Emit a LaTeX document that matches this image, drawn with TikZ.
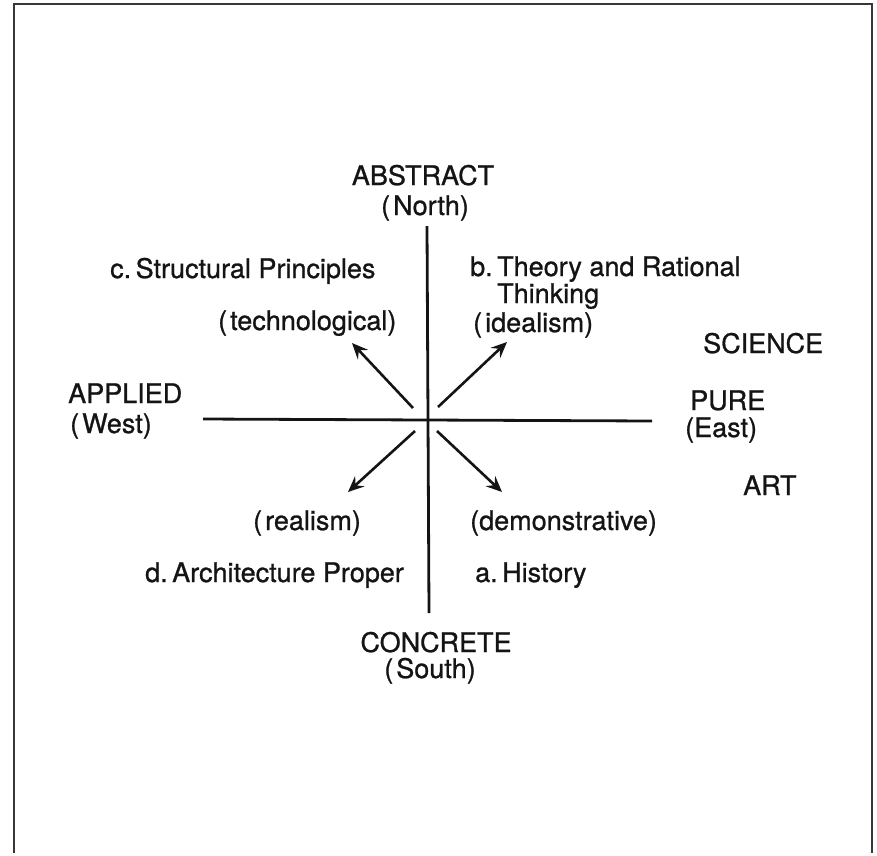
\documentclass[tikz,border=0pt]{standalone}
\usepackage{fontspec}
\setmainfont{TeX Gyre Heros}[RawFeature={embolden=0.9}]
\usepackage{tikz}
\usetikzlibrary{arrows.meta,positioning,calc}
\definecolor{inkblack}{RGB}{20,20,20}

\begin{document}
\begin{tikzpicture}[x=1pt, y=-1pt,
        lbl/.style={inner sep=0pt, text=inkblack, font=\fontsize{27}{29}\selectfont},
        axis/.style={line width=2.8pt, inkblack},
        dirarrow/.style={line width=2.6pt, inkblack, -{Stealth[length=16pt,width=14pt,inset=6pt]}}]
        \useasboundingbox (0,0) rectangle (877,855);
        \draw[line width=2pt, inkblack!85] (14,853) -- (14,4) -- (872,4) -- (872,853);
        % axes
        \coordinate (north) at (427,226);
        \coordinate (south) at (429,613);
        \coordinate (west) at (203,419);
        \coordinate (east) at (652,421);
        \draw[axis] (north) -- (south);
        \draw[axis] (west) -- (east);
        % arrows out of the centre
        \coordinate (nwtail) at (413,408);
        \coordinate (nwtip) at (352,343);
        \coordinate (netail) at (438,407);
        \coordinate (netip) at (507,342);
        \coordinate (swtail) at (415,431);
        \coordinate (swtip) at (348,492);
        \coordinate (setail) at (437,431);
        \coordinate (setip) at (502,492);
        \draw[dirarrow] (nwtail) -- (nwtip);
        \draw[dirarrow] (netail) -- (netip);
        \draw[dirarrow] (swtail) -- (swtip);
        \draw[dirarrow] (setail) -- (setip);
        % pole labels
        \node[lbl, anchor=base] (abstract) at (423,185) {ABSTRACT};
        \node[lbl, anchor=base] (northlbl) at (425,215) {(\kern3pt North)};
        \node[lbl, anchor=base] (concrete) at (436,652) {CONCRETE};
        \node[lbl, anchor=base] (southlbl) at (430,678) {(\kern3pt South)};
        \node[lbl, anchor=base west] (applied) at (68,403) {APPLIED};
        \node[lbl, anchor=base west] (westlbl) at (70,433) {(\kern3pt West)};
        \node[lbl, anchor=base west] (pure) at (690,410) {PURE};
        \node[lbl, anchor=base west] (eastlbl) at (685,437) {(East)};
        \node[lbl, anchor=base west] (science) at (703,353) {SCIENCE};
        \node[lbl, anchor=base west] (art) at (743,495) {ART};
        % quadrant labels
        \node[lbl, anchor=base west] (structural) at (110,278) {c.\,Structural Principles};
        \node[lbl, anchor=base west] (technological) at (218,330) {(\kern3pt technological)};
        \node[lbl, anchor=base west] (theory) at (470,276) {b.\,Theory and Rational};
        \node[lbl, anchor=base west] (thinking) at (497,303) {Thinking};
        \node[lbl, anchor=base west] (idealism) at (473,332) {(\kern3pt idealism)};
        \node[lbl, anchor=base west] (realism) at (253,530) {(\kern3pt realism)};
        \node[lbl, anchor=base west] (demonstrative) at (470,530) {(demonstrative)};
        \node[lbl, anchor=base west] (archproper) at (145,582) {d.\,Architecture Proper};
        \node[lbl, anchor=base west] (history) at (475,582) {a.\,History};
    \end{tikzpicture}
\end{document}
